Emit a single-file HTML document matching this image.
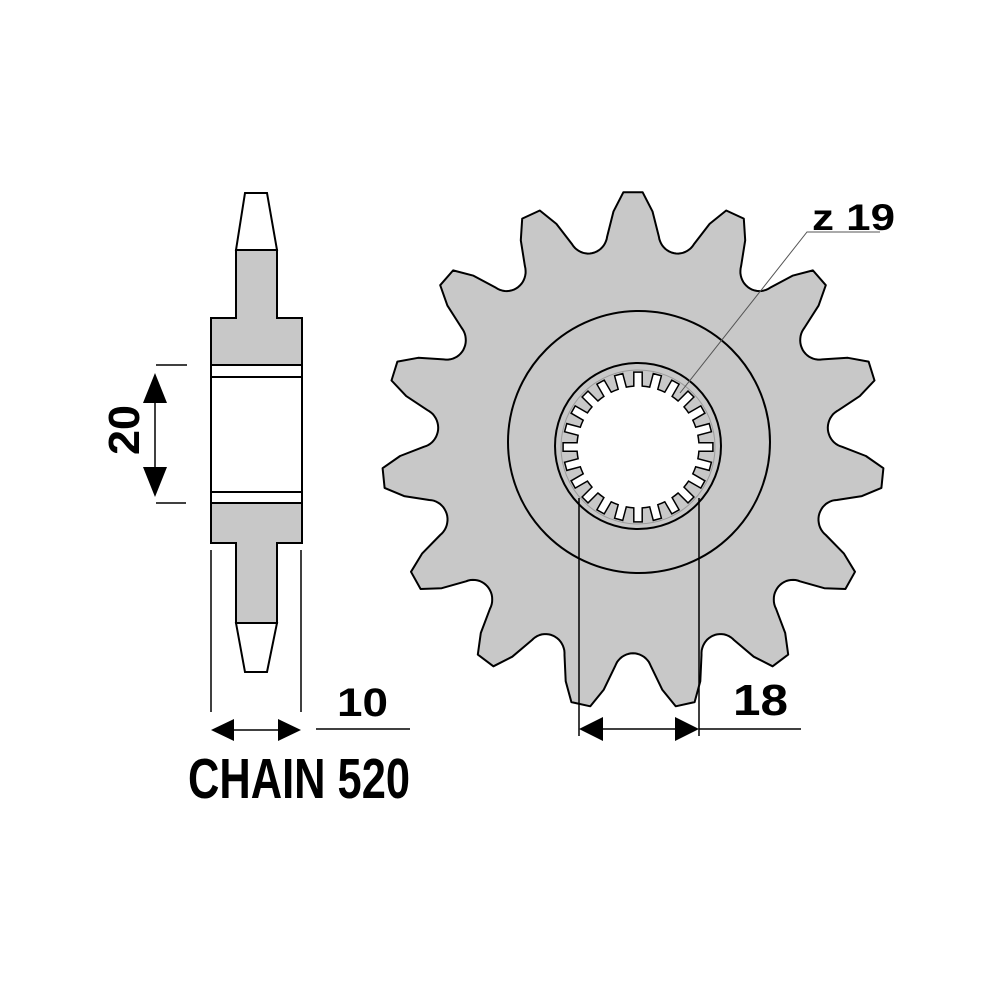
<!DOCTYPE html>
<html><head><meta charset="utf-8"><style>
html,body{margin:0;padding:0;background:#fff;width:1000px;height:1000px;overflow:hidden}
svg{display:block}
text{font-family:"Liberation Sans",sans-serif;font-weight:bold;fill:#000}
</style></head><body>
<svg id="s" width="1000" height="1000" viewBox="0 0 1000 1000" xmlns="http://www.w3.org/2000/svg">
<g stroke="#000" stroke-width="2" fill="#c8c8c8">
  <polygon points="245,193 267,193 277,250 236,250" fill="#fff"/>
  <polygon points="236,250 277,250 277,318 302,318 302,365 211,365 211,318 236,318" />
  <rect x="211" y="365" width="91" height="12" fill="#fff"/>
  <rect x="211" y="377" width="91" height="115" fill="#fff"/>
  <rect x="211" y="492" width="91" height="11" fill="#fff"/>
  <polygon points="211,503 302,503 302,543 277,543 277,623 236,623 236,543 211,543"/>
  <polygon points="236,623 277,623 267,672 245,672" fill="#fff"/>
</g>
<g stroke="#000" stroke-width="1.5" fill="none">
  <line x1="211" y1="550" x2="211" y2="712"/>
  <line x1="301" y1="550" x2="301" y2="712"/>
  <line x1="214" y1="730" x2="298" y2="730"/>
  <line x1="316" y1="729" x2="410" y2="729"/>
  <line x1="156" y1="365" x2="187" y2="365"/>
  <line x1="156" y1="503" x2="186" y2="503"/>
  <line x1="155" y1="380" x2="155" y2="490"/>
</g>
<g fill="#000">
  <polygon points="211,730 234,719 234,741"/>
  <polygon points="301,730 278,719 278,741"/>
  <polygon points="155,373 143,403 167,403"/>
  <polygon points="155,497 143,467 167,467"/>
</g>
<text x="0" y="0" font-size="44" transform="translate(139,455) rotate(-90)" textLength="50" lengthAdjust="spacingAndGlyphs">20</text>
<text x="337" y="716" font-size="40" textLength="51" lengthAdjust="spacingAndGlyphs">10</text>
<text x="188" y="798" font-size="57" textLength="222" lengthAdjust="spacingAndGlyphs">CHAIN 520</text>

<path id="gear" fill="#c8c8c8" stroke="#000" stroke-width="2" stroke-linejoin="round" d=""/>
<circle cx="639" cy="442" r="131" fill="none" stroke="#000" stroke-width="2"/>
<circle cx="638" cy="446" r="83" fill="none" stroke="#000" stroke-width="2"/>
<circle cx="638" cy="447" r="77" fill="none" stroke="#9a9a9a" stroke-width="1"/>
<path id="spl" fill="#fff" stroke="#000" stroke-width="1.5" d=""/>

<g stroke="#000" stroke-width="1.5" fill="none">
  <line x1="579" y1="498" x2="579" y2="736"/>
  <line x1="699" y1="498" x2="699" y2="736"/>
  <line x1="582" y1="729" x2="696" y2="729"/>
  <line x1="699" y1="729" x2="801" y2="729"/>
</g>
<g stroke="#555" stroke-width="1" fill="none">
  <polyline points="680,393 807,232 880,232"/>
</g>
<g fill="#000">
  <polygon points="579,729 603,717 603,741"/>
  <polygon points="699,729 675,717 675,741"/>
</g>
<text x="733" y="715" font-size="44" textLength="55" lengthAdjust="spacingAndGlyphs">18</text>
<text x="812" y="230" font-size="37" textLength="83" lengthAdjust="spacingAndGlyphs">z 19</text>
</svg>
<script>
(function(){
 var cx=633, cy=451, R=251, sy=1.032, rho=19, Rc=215;
 var N=15, pitch=360/N;
 var pts=[];
 function add(x,y){ pts.push((cx+x).toFixed(1)+","+(cy+y*sy).toFixed(1)); }
 function pol(r,deg){var a=deg*Math.PI/180;return [r*Math.cos(a),r*Math.sin(a)];}
 for(var k=0;k<N;k++){
   var th=-90+k*pitch;
   var t1=pol(R,th-2.2), t2=pol(R,th+2.2);
   add(t1[0],t1[1]); add(t2[0],t2[1]);
   // slight convex point on flank
   var m1=pol(233,th+4.8); add(m1[0],m1[1]);
   var vc=th+pitch/2, va=vc*Math.PI/180;
   var ux=Math.cos(va), uy=Math.sin(va), vx=-uy, vy=ux;
   var c=[Rc*ux,Rc*uy];
   for(var f=-70; f<=70.1; f+=7){
     var phi=f*Math.PI/180;
     var x=c[0]-rho*Math.cos(phi)*ux+rho*Math.sin(phi)*vx;
     var y=c[1]-rho*Math.cos(phi)*uy+rho*Math.sin(phi)*vy;
     add(x,y);
   }
   var m2=pol(233,th+pitch-4.8); add(m2[0],m2[1]);
 }
 document.getElementById("gear").setAttribute("d","M"+pts.join(" L")+" Z");
 var hx=638, hy=447, r0=61, r1=75, M=24, hw=4.2;
 var d=[];
 function P(r,a){return (hx+r*Math.cos(a)).toFixed(1)+","+(hy+r*Math.sin(a)).toFixed(1);}
 for(var i=0;i<M;i++){
   var a0=(i*360/M-90)*Math.PI/180;
   var da=hw/r0, da1=hw/r1;
   var seg=(360/M)*Math.PI/180;
   d.push((i==0?"M":"L")+P(r0,a0-da));
   d.push("L"+P(r1,a0-da1));
   d.push("L"+P(r1,a0+da1));
   d.push("L"+P(r0,a0+da));
   d.push("A"+r0+","+r0+" 0 0 1 "+P(r0,a0+seg-da));
 }
 document.getElementById("spl").setAttribute("d",d.join(" ")+" Z");
})();
</script>
</body></html>
